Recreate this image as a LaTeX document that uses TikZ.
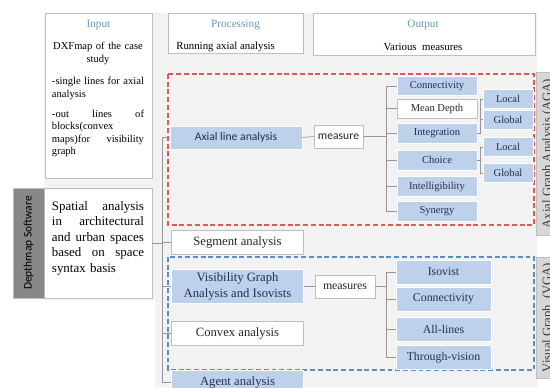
\documentclass[tikz,border=0pt]{standalone}
\usepackage{fontspec}
\setmainfont{Liberation Serif}
\newfontfamily\calibrifont{Carlito}
\definecolor{panelgray}{RGB}{242,242,242}
\definecolor{boxline}{RGB}{190,190,190}
\definecolor{linegray}{RGB}{150,150,150}
\definecolor{boxblue}{RGB}{189,210,234}
\definecolor{bluetext}{RGB}{35,45,85}
\definecolor{headblue}{RGB}{105,150,180}
\definecolor{agared}{RGB}{220,90,90}
\definecolor{vgablue}{RGB}{95,140,190}
\definecolor{depthgray}{RGB}{135,135,135}
\definecolor{sidegray}{RGB}{215,215,215}
\definecolor{darktext}{RGB}{60,60,60}
\tikzset{
  link/.style={draw=linegray, line width=0.016cm},
  wbox/.style={draw=boxline, fill=white, line width=0.016cm, inner sep=0pt, align=center, text=black!85},
  bbox/.style={draw=white, fill=boxblue, line width=0.016cm, inner sep=0pt, align=center, text=bluetext},
  procfont/.style={font=\fontsize{9}{11.5}\selectfont},
  sansfont/.style={font=\calibrifont\fontsize{8.3}{10}\selectfont},
  smallfont/.style={font=\fontsize{7.5}{9}\selectfont},
  vgafont/.style={font=\fontsize{8.4}{10}\selectfont},
  headtitle/.style={text=headblue, font=\fontsize{8}{9.5}\selectfont, inner sep=0pt},
  headtext/.style={font=\fontsize{7.7}{9}\selectfont, inner sep=0pt},
  intext/.style={font=\fontsize{7.5}{8.8}\selectfont, inner sep=0pt, text width=2.3cm, align=left},
  agaframe/.style={draw=agared, line width=0.03cm, dash pattern=on 3.5pt off 2pt},
  vgaframe/.style={draw=vgablue, line width=0.03cm, dash pattern=on 3.5pt off 2pt},
  sidepanel/.style={fill=sidegray, draw=boxline, line width=0.016cm, rotate=90, inner sep=0pt, minimum height=0.6cm, font=\fontsize{9}{10}\selectfont, text=darktext},
}
\begin{document}
\begin{tikzpicture}[x=0.025cm, y=-0.025cm]
            \clip (0,0) rectangle (550,387);
            {\footnotesize

            % Drawing background panel
            \fill [panelgray] (44,13) -- (537,13) -- (537,387) -- (155,387) -- (155,300) -- (44,300) -- cycle;%

            % Drawing column Input
            \node (inbox) [wbox, minimum width=2.675cm, minimum height=4.125cm] at (98.5,95.5) {};%
            \node (intitle) [headtitle] at (98.5,25) {Input};%
            \node (indxf) [intext, align=center] at (98,53.5) {DXFmap of the case\\study};%
            \node (insingle) [intext] at (98,88.5) {-single lines for axial\\analysis};%
            \node (inout) [intext] at (98,133.5) {-out\hfill lines\hfill of\\blocks(convex\\maps)for\hfill visibility\\graph};%

            % Drawing column Processing
            \node (prochead) [wbox, minimum width=3.375cm, minimum height=1cm] at (235.5,33) {};%
            \node (proctitle) [headtitle] at (235.5,25) {Processing};%
            \node (proctext) [headtext, anchor=west] at (176,47) {Running axial analysis};%

            % Drawing column Output
            \node (outhead) [wbox, minimum width=5.55cm, minimum height=1.05cm] at (424,34) {};%
            \node (outtitle) [headtitle] at (423,25) {Output};%
            \node (outtext) [headtext] at (423,47) {Various\ \ measures};%

            % Drawing software boxes
            \node (depthmap) [fill=depthgray, draw=boxline, line width=0.016cm, rotate=90, minimum width=2.75cm, minimum height=0.775cm, inner sep=0pt, font=\calibrifont\fontsize{8.2}{9}\selectfont] at (28.5,243) {Depthmap Software};%
            \node (spatial) [wbox, minimum width=2.7cm, minimum height=2.75cm] at (98,243) {};%
            \node (spatialtext) [font=\fontsize{9.2}{11}\selectfont, text width=2.3cm, align=left, inner sep=0pt] at (98,238) {Spatial\hfill analysis\\in\hfill architectural\\and\hfill urban\hfill spaces\\based\hfill on\hfill space\\syntax basis};%

            % Drawing frames AGA and VGA
            \draw [agaframe] (168,74) rectangle (534,225);%
            \draw [vgaframe] (168,257) rectangle (534,370);%

            % Drawing processing boxes
            \node (axial) [bbox, sansfont, minimum width=3.3cm, minimum height=0.575cm] at (236,137.5) {Axial line analysis};%
            \node (segment) [wbox, procfont, minimum width=3.3cm, minimum height=0.6cm] at (237.5,242) {Segment analysis};%
            \node (vga) [bbox, procfont, minimum width=3.3cm, minimum height=0.85cm] at (237.5,286.5) {Visibility Graph\\Analysis and Isovists};%
            \node (convex) [wbox, procfont, minimum width=3.3cm, minimum height=0.6cm] at (237.5,333) {Convex analysis};%
            \node (agent) [bbox, procfont, minimum width=3.3cm, minimum height=0.6cm] at (237.5,382) {Agent analysis};%

            % Drawing trunk s
            \coordinate (ptrunk) at (162,0);%
            \draw [link] (spatial.east) -- (spatial.east -| ptrunk);%
            \draw [link] (axial.west -| ptrunk) -- (agent.west -| ptrunk);%
            \foreach \n in {axial,segment,vga,convex,agent}
              \draw [link] (\n.west -| ptrunk) -- (\n.west);%

            % Drawing measures of AGA
            \node (measure) [wbox, sansfont, minimum width=1.225cm, minimum height=0.575cm] at (338.5,136.5) {measure};%
            \node (conn) [bbox, smallfont, minimum width=2cm, minimum height=0.475cm] at (437,86) {Connectivity};%
            \node (depth) [wbox, smallfont, minimum width=2cm, minimum height=0.475cm] at (437,108.5) {Mean Depth};%
            \node (integ) [bbox, smallfont, minimum width=2cm, minimum height=0.5cm] at (437,133.5) {Integration};%
            \node (choice) [bbox, smallfont, minimum width=2cm, minimum height=0.5cm] at (437,160) {Choice};%
            \node (intel) [bbox, smallfont, minimum width=2cm, minimum height=0.5cm] at (437,186.5) {Intelligibility};%
            \node (syn) [bbox, smallfont, minimum width=2cm, minimum height=0.5cm] at (437,211) {Synergy};%
            \node (local1) [bbox, smallfont, minimum width=1.25cm, minimum height=0.475cm] at (508,99) {Local};%
            \node (global1) [bbox, smallfont, minimum width=1.25cm, minimum height=0.475cm] at (508,119.5) {Global};%
            \node (local2) [bbox, smallfont, minimum width=1.25cm, minimum height=0.475cm] at (508,147) {Local};%
            \node (global2) [bbox, smallfont, minimum width=1.25cm, minimum height=0.475cm] at (508,173) {Global};%

            % Drawing tree of AGA
            \draw [link] (axial.east) -- (measure.west);%
            \coordinate (atrunk) at (386,0);%
            \draw [link] (measure.east) -- (measure.east -| atrunk);%
            \draw [link] (conn.west -| atrunk) -- (syn.west -| atrunk);%
            \foreach \n in {conn,depth,integ,choice,intel,syn}
              \draw [link] (\n.west -| atrunk) -- (\n.west);%
            \coordinate (bk) at (480,0);%
            \draw [link] (integ.east) -- (integ.east -| bk) -- (local1.west -| bk) -- (local1.west);%
            \draw [link] (global1.west -| bk) -- (global1.west);%
            \draw [link] (local2.west) -- (local2.west -| bk) -- (global2.west -| bk) -- (global2.west);%
            \draw [link] (choice.east) -- (choice.east -| bk);%

            % Drawing measures of VGA
            \node (measures) [wbox, vgafont, minimum width=1.5cm, minimum height=0.575cm] at (345,286.5) {measures};%
            \node (iso) [bbox, vgafont, minimum width=2.375cm, minimum height=0.6cm] at (443.5,272) {Isovist};%
            \node (conn2) [bbox, vgafont, minimum width=2.375cm, minimum height=0.6cm] at (443.5,299) {Connectivity};%
            \node (alll) [bbox, vgafont, minimum width=2.375cm, minimum height=0.6cm] at (443.5,329) {All-lines};%
            \node (thru) [bbox, vgafont, minimum width=2.375cm, minimum height=0.6cm] at (443.5,357.5) {Through-vision};%

            % Drawing tree of VGA
            \draw [link] (vga.east) -- (measures.west);%
            \coordinate (vtrunk) at (386,0);%
            \draw [link] (measures.east) -- (measures.east -| vtrunk);%
            \draw [link] (iso.west -| vtrunk) -- (thru.west -| vtrunk);%
            \foreach \n in {iso,conn2,alll,thru}
              \draw [link] (\n.west -| vtrunk) -- (\n.west);%

            % Drawing side panels
            \node (agapanel) [sidepanel, minimum width=4.075cm] at (548,153.5) {Axial Graph Analysis (AGA)};%
            \node (vgapanel) [sidepanel, minimum width=3.025cm] at (548,317.5) {Visual Graph\ \ (VGA)};%
            }
\end{tikzpicture}
\end{document}
